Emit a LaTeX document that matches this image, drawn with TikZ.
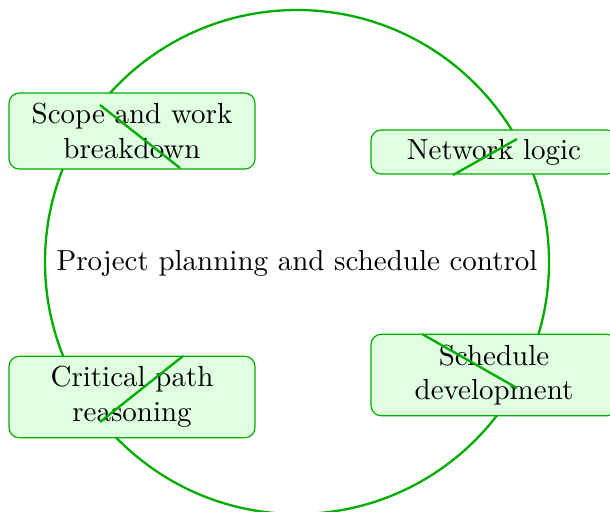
\documentclass[tikz,border=0pt]{standalone}
\begin{document}
\begin{tikzpicture}[x=0.3448pt,y=-0.3448pt,
  ring/.style={draw=green!68!black, line width=0.8pt},
  stagebox/.style={draw=green!68!black, fill=green!12, rounded corners=3.5pt,
    line width=0.4pt, align=center, inner sep=0pt, font=\normalsize},
  crossline/.style={draw=green!68!black, line width=0.8pt}]
\useasboundingbox (0,0) rectangle (610,511);
\draw[ring] (297,262) circle[radius=252];
\node (center) at (297,263) {Project planning and schedule control};
\node[stagebox, minimum width=84.8pt, minimum height=26.2pt, text width=84.8pt] (scope) at (132,131) {Scope and work\\breakdown};
\node[stagebox, minimum width=84.8pt, minimum height=15.2pt, text width=84.8pt] (network) at (494,152) {Network logic};
\node[stagebox, minimum width=84.8pt, minimum height=28.1pt, text width=84.8pt] (critical) at (132,397) {Critical path\\reasoning};
\node[stagebox, minimum width=84.8pt, minimum height=28.1pt, text width=84.8pt] (schedule) at (494,375) {Schedule\\development};
\coordinate (s1) at (100,105); \coordinate (s2) at (180,168);
\coordinate (n1) at (453,175); \coordinate (n2) at (517,139);
\coordinate (c1) at (183,356); \coordinate (c2) at (100,422);
\coordinate (d1) at (422,334); \coordinate (d2) at (517,388);
\draw[crossline] (s1) -- (s2);
\draw[crossline] (n1) -- (n2);
\draw[crossline] (c1) -- (c2);
\draw[crossline] (d1) -- (d2);
\end{tikzpicture}
\end{document}
